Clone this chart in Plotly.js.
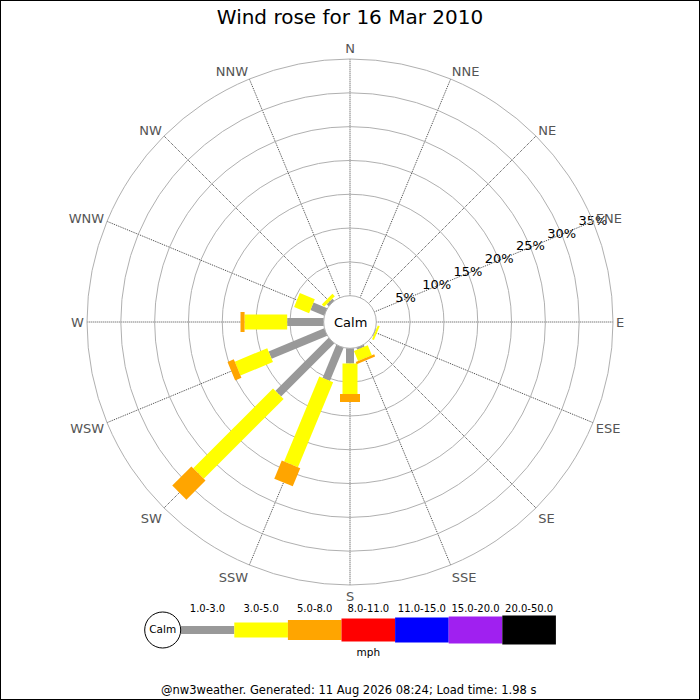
<!DOCTYPE html>
<html>
<head>
<meta charset="utf-8">
<script src="https://cdn.plot.ly/plotly-3.0.1.min.js"></script>
<style>
html, body { margin: 0; padding: 0; background: #fff; }
#chart { width: 700px; height: 700px; }
</style>
</head>
<body>
<div id="chart"></div>
<script>
// ---- Data ----
const directions = ["N","NNE","NE","ENE","E","ESE","SE","SSE","S","SSW","SW","WSW","W","WNW","NW","NNW"];
const bandLabels = ["1.0-3.0","3.0-5.0","5.0-8.0","8.0-11.0","11.0-15.0","15.0-20.0","20.0-50.0"];
const bandColors = ["#999999","#ffff00","#ffa500","#ff0000","#0000ff","#a020f0","#000000"];
// percentage of time in each speed band per direction
const band1to3   = [0,0,0,0,0,0.1,0,0.3,2.25,5.3,11.1,8.9,5.4,2.2,0.4,0];
const band3to5   = [0,0,0,0,0,0.3,0,1.6,4.5,13.6,16.7,5.2,6.3,2.4,0.5,0];
const band5to8   = [0,0,0,0,0,0,0,0.35,1.2,2.9,4.0,1.0,0.6,0,0,0];
const band8to11  = [0,0,0,0,0,0,0,0,0,0,0,0,0,0,0,0];
const band11to15 = [0,0,0,0,0,0,0,0,0,0,0,0,0,0,0,0];
const band15to20 = [0,0,0,0,0,0,0,0,0,0,0,0,0,0,0,0];
const band20to50 = [0,0,0,0,0,0,0,0,0,0,0,0,0,0,0,0];
const radialTicks = [5,10,15,20,25,30,35];
const radialTickText = ["5%","10%","15%","20%","25%","30%","35%"];
const unitLabel = "mph";
const calmLabel = "Calm";
const titleText = "Wind rose for 16 Mar 2010";
const footerText = "@nw3weather. Generated: 11 Aug 2026 08:24; Load time: 1.98 s";

// ---- Styling ----
const bandWidths = [8,15,20,23,25,27,29];
const FONT = "DejaVu Sans, Verdana, sans-serif";
const bands = [band1to3, band3to5, band5to8, band8to11, band11to15, band15to20, band20to50];

const traces = [];
const base = directions.map(() => 0);
bands.forEach((vals, b) => {
  const r = [], th = [];
  vals.forEach((v, j) => {
    if (v > 0) {
      r.push(base[j], base[j] + v, null);
      th.push(directions[j], directions[j], null);
    }
    base[j] += v;
  });
  if (r.length) {
    traces.push({
      type: "scatterpolar", mode: "lines", r: r, theta: th,
      line: {color: bandColors[b], width: bandWidths[b]},
      connectgaps: false, hoverinfo: "skip", cliponaxis: false
    });
  }
});

// radial labels along ENE
traces.push({
  type: "scatterpolar", mode: "text",
  r: radialTicks, theta: radialTicks.map(() => "ENE"),
  text: radialTickText, textposition: "middle center",
  textfont: {family: FONT, size: 13, color: "#000"},
  cliponaxis: false, hoverinfo: "skip"
});

// legend (speed scale) in a hidden cartesian subplot
bandLabels.forEach((lab, i) => {
  traces.push({
    type: "scatter", mode: "lines", x: [i, i + 1], y: [0, 0],
    xaxis: "x", yaxis: "y",
    line: {color: bandColors[i], width: bandWidths[i]},
    hoverinfo: "skip", cliponaxis: false
  });
});
traces.push({
  type: "scatter", mode: "text", x: bandLabels.map((_, i) => i + 0.5),
  y: bandLabels.map(() => 0.6), text: bandLabels,
  textposition: "middle center", textfont: {family: FONT, size: 10, color: "#000"},
  xaxis: "x", yaxis: "y", hoverinfo: "skip", cliponaxis: false
});
traces.push({
  type: "scatter", mode: "text", x: [bandLabels.length / 2], y: [-0.66], text: [unitLabel],
  textposition: "middle center", textfont: {family: FONT, size: 10.5, color: "#000"},
  xaxis: "x", yaxis: "y", hoverinfo: "skip", cliponaxis: false
});
traces.push({
  type: "scatter", mode: "markers+text", x: [-0.336], y: [0], text: [calmLabel],
  textposition: "middle center", textfont: {family: FONT, size: 10.5, color: "#000"},
  marker: {size: 36, color: "#fff", line: {color: "#000", width: 1}},
  xaxis: "x", yaxis: "y", hoverinfo: "skip", cliponaxis: false
});

const W = 700;
const layout = {
  width: 700, height: 700,
  margin: {l: 0, r: 0, t: 0, b: 0, pad: 0},
  paper_bgcolor: "#fff", plot_bgcolor: "#fff",
  showlegend: false,
  font: {family: FONT},
  title: {text: titleText, x: 0.5, xanchor: "center", y: 1 - 17 / W, yanchor: "middle",
          font: {family: FONT, size: 20, color: "#000"}},
  polar: {
    domain: {x: [87 / W, 613 / W], y: [(378 - 263) / W, (378 + 263) / W]},
    hole: 0.1,
    bgcolor: "#fff",
    radialaxis: {
      range: [0, 35], tickvals: [0].concat(radialTicks), showticklabels: false,
      ticks: "", showline: false, gridcolor: "#b0b0b0", gridwidth: 1, angle: 22.5
    },
    angularaxis: {
      type: "category", categoryarray: directions, direction: "clockwise", rotation: 90,
      ticks: "", showline: true, linecolor: "#b0b0b0", linewidth: 1,
      gridcolor: "#444444", griddash: "1px,1px", gridwidth: 1,
      tickfont: {family: FONT, size: 13, color: "#555555"}
    }
  },
  xaxis: {domain: [140 / W, 560 / W], range: [(140 - 180.7) / 53.6, (560 - 180.7) / 53.6],
          visible: false, fixedrange: true},
  yaxis: {domain: [35 / W, 105 / W], range: [-1, 1], visible: false, fixedrange: true},
  annotations: [
    {text: calmLabel, x: 0.5, y: 378 / W, xref: "paper", yref: "paper",
     xanchor: "center", yanchor: "middle", showarrow: false,
     font: {family: FONT, size: 13, color: "#000"}},
    {text: footerText, x: 348 / W, y: 10 / W, xref: "paper", yref: "paper",
     xanchor: "center", yanchor: "middle", showarrow: false,
     font: {family: FONT, size: 11.5, color: "#000"}}
  ],
  shapes: [
    {type: "rect", xref: "paper", yref: "paper", x0: 0, x1: 1, y0: 0, y1: 1,
     line: {color: "#000", width: 2}, layer: "above"}
  ]
};

Plotly.newPlot("chart", traces, layout, {displayModeBar: false, staticPlot: true});
</script>
</body>
</html>
